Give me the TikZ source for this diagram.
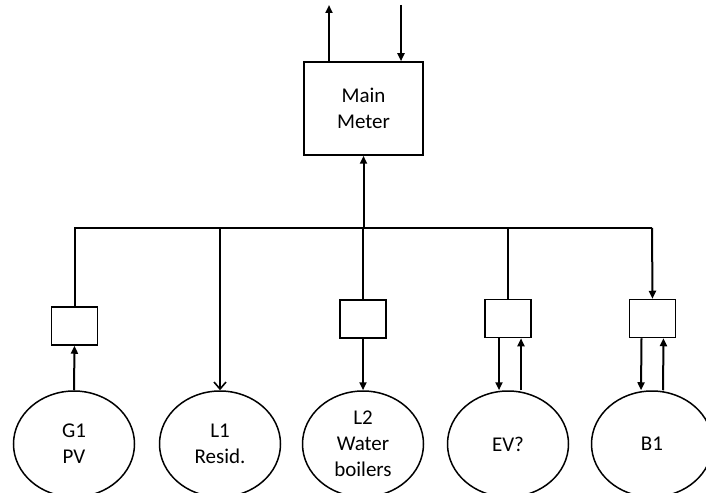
\documentclass[tikz,border=0pt]{standalone}
\usepackage{fontspec}
\setmainfont{Carlito}
\usetikzlibrary{arrows.meta,shapes.geometric}
\begin{document}
\begin{tikzpicture}[x=1bp,y=-1bp,
  every node/.style={font=\fontsize{21bp}{26bp}\selectfont, align=center, inner sep=0pt},
  meter/.style={draw, line width=1.5bp, minimum width=46bp, minimum height=38bp},
  mainbox/.style={draw, line width=1.5bp, minimum width=119bp, minimum height=93bp},
  unit/.style={draw, ellipse, line width=1.5bp, minimum width=121bp, minimum height=106bp},
  conn/.style={line width=2bp},
  tip/.style={-{Triangle[length=8bp,width=7bp]}},
  opentip/.style={-{Straight Barb[length=7bp,width=12bp,line width=1.6bp]}}]
\useasboundingbox (0,0) rectangle (706,493);
\fill[white] (0,0) rectangle (706,493);

% meter boxes
\node[mainbox] (mm) at (363.5,108.5) {Main\\Meter};
\node[meter] (g1box) at (74.5,326) {};
\node[meter] (l2box) at (363,319) {};
\node[meter] (evbox) at (508,318.5) {};
\node[meter] (b1box) at (652.5,318.5) {};

% generators and loads
\node[unit] (g1) at (74,444) {G1\\PV};
\node[unit] (l1) at (220,444) {L1\\Resid.};
\node[unit] (l2) at (363,444) {L2\\Water\\boilers};
\node[unit] (ev) at (508,444) {EV?};
\node[unit] (b1) at (652,444) {B1};

% grid connection above the main meter
\coordinate (gridout) at (329,5);
\coordinate (gridin) at (401,5);
\draw[conn,tip] (gridout |- mm.north) -- (gridout);
\draw[conn,tip] (gridin) -- (gridin |- mm.north);

% distribution bus
\coordinate (bus) at (652,228);
\draw[conn] (g1box.north) |- (bus);
\draw[conn,tip] (bus) -- (b1box.north);
\draw[conn,tip] (mm.south |- bus) -- (mm.south);
\draw[conn,opentip] (l1.north |- bus) -- (l1.north);
\draw[conn] (l2box.north |- bus) -- (l2box.north);
\draw[conn] (evbox.north |- bus) -- (evbox.north);

% branches between meters and units
\draw[conn,tip] (g1.north) -- (g1box.south);
\draw[conn,tip] (l2box.south) -- (l2.north);
\draw[conn,tip] ([xshift=-9bp]evbox.south) -- ([xshift=-9bp]ev.north);
\draw[conn,tip] ([xshift=13bp]ev.north) -- ([xshift=13bp]evbox.south);
\draw[conn,tip] ([xshift=-11bp]b1box.south) -- ([xshift=-11bp]b1.north);
\draw[conn,tip] ([xshift=11bp]b1.north) -- ([xshift=11bp]b1box.south);
\end{tikzpicture}
\end{document}
